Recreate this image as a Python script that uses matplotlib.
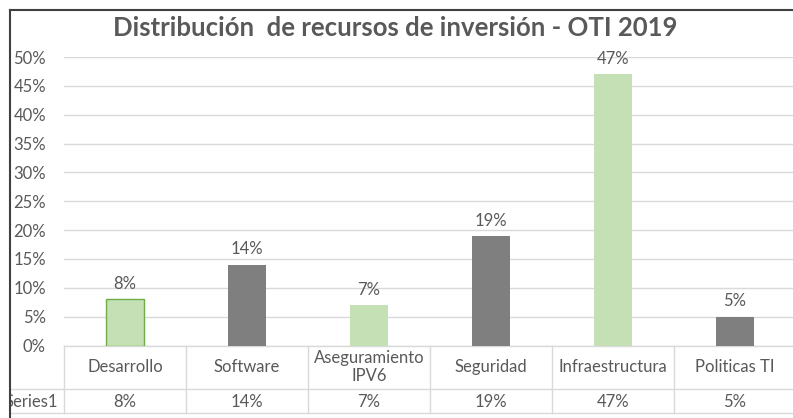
import matplotlib
matplotlib.use('Agg')
import matplotlib.pyplot as plt
import matplotlib.transforms as mtransforms
from matplotlib.lines import Line2D

plt.rcParams['font.family'] = ['Lato', 'DejaVu Sans']

# --- datos ---
categorias = ['Desarrollo', 'Software', 'Aseguramiento\nIPV6', 'Seguridad',
              'Infraestructura', 'Politicas TI']
valores = [8, 14, 7, 19, 47, 5]
etiquetas_y = ['0%', '5%', '10%', '15%', '20%', '25%', '30%', '35%', '40%', '45%', '50%']
serie = 'Series1'

W, H = 793, 418
VERDE = '#C5E0B4'
GRIS = '#7F7F7F'
TEXTO = '#595959'
LINEA = '#D9D9D9'
colores = [VERDE if i % 2 == 0 else GRIS for i in range(len(valores))]

fig = plt.figure(figsize=(W / 100, H / 100), dpi=100)

# area del grafico en pixeles
x0, x1 = 64, 796
y_top, y_bot = 57, 345.5
ax = fig.add_axes([x0 / W, 1 - y_bot / H, (x1 - x0) / W, (y_bot - y_top) / H])

pos = list(range(len(categorias)))
barras = ax.bar(pos, valores, width=0.31, color=colores, zorder=3)
barras[0].set_edgecolor('#70AD47')
barras[0].set_linewidth(1.0)

for p, v in zip(pos, valores):
    ax.annotate(f'{v}%', (p, v), xytext=(0, 11), textcoords='offset points',
                ha='center', va='center', fontsize=12, color=TEXTO, zorder=4)

ax.set_xlim(-0.5, len(categorias) - 0.5)
ax.set_ylim(0, 50)
ax.set_yticks(range(0, 51, 5))
ax.set_yticklabels(etiquetas_y)
ax.tick_params(axis='y', length=0, pad=13, labelsize=12, labelcolor=TEXTO)
ax.tick_params(axis='x', bottom=False, labelbottom=False)
ax.grid(axis='y', color=LINEA, linewidth=1.0, zorder=0)
for s in ['top', 'right', 'left']:
    ax.spines[s].set_visible(False)
ax.spines['bottom'].set_color(LINEA)
ax.spines['bottom'].set_linewidth(1.0)

# --- tabla de datos ---
fig_tr = fig.transFigure
mix = mtransforms.blended_transform_factory(ax.transData, fig_tr)

def fy(y):
    return 1 - y / H

y_mid, y_fin = 389, 413
for xb in [x0 + 122 * k for k in range(7)]:
    fig.add_artist(Line2D([xb / W, xb / W], [fy(y_bot), fy(y_fin)],
                          color=LINEA, lw=1.0, transform=fig_tr))
for yy in [y_mid, y_fin]:
    fig.add_artist(Line2D([10 / W, 1], [fy(yy), fy(yy)], color=LINEA, lw=1.0,
                          transform=fig_tr))

for p, c, v in zip(pos, categorias, valores):
    fig.text(p, fy(367), c, transform=mix, ha='center', va='center',
             fontsize=12, color=TEXTO, linespacing=1.1)
    fig.text(p, fy(402), f'{v}%', transform=mix, ha='center', va='center',
             fontsize=12, color=TEXTO)
fig.text(58 / W, fy(402), serie, ha='right', va='center', fontsize=12, color=TEXTO)

# titulo
fig.text(395 / W, fy(28), 'Distribución  de recursos de inversión - OTI 2019',
         ha='center', va='center', fontsize=18.5, fontweight='bold', color=TEXTO)

# borde del grafico
fig.add_artist(Line2D([10 / W, 10 / W], [0, fy(9.5)], color='#404040', lw=1.5,
                      transform=fig_tr, zorder=10))
fig.add_artist(Line2D([10 / W, 1], [fy(9.5), fy(9.5)], color='#404040', lw=1.5,
                      transform=fig_tr, zorder=10))
fig.patches.append(plt.Rectangle((0, 0), 10 / W, 1, transform=fig_tr,
                                 facecolor='white', edgecolor='none', zorder=9))

fig.savefig('out.png', dpi=100)
